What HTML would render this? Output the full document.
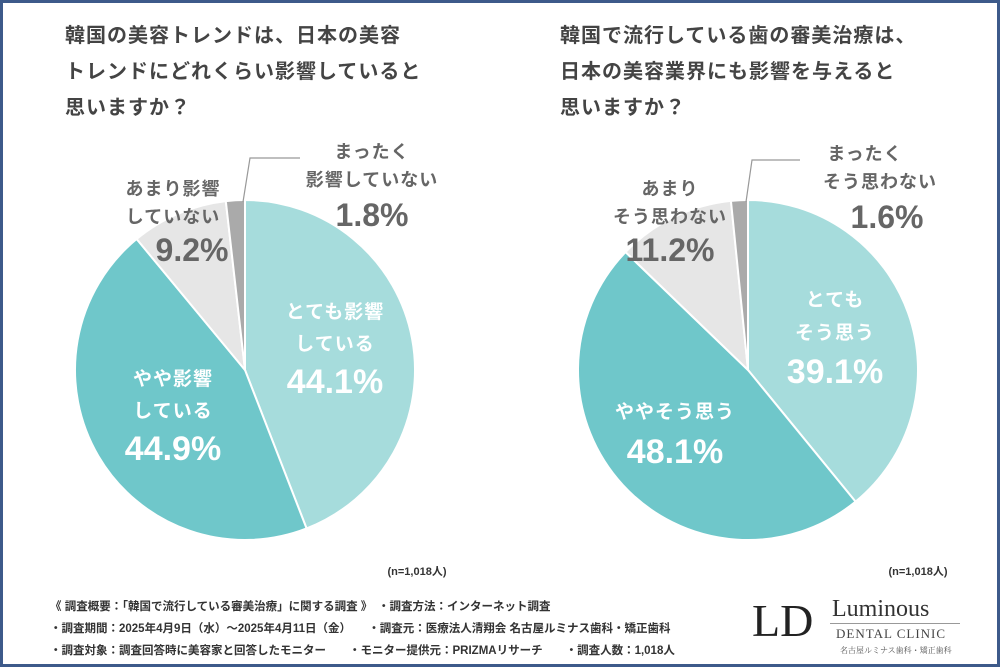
<!DOCTYPE html>
<html><head><meta charset="utf-8">
<style>
html,body{margin:0;padding:0;}
body{width:1000px;height:667px;position:relative;overflow:hidden;background:#fff;font-family:"Liberation Sans","Noto Sans CJK JP",sans-serif;}
#frame{position:absolute;left:0;top:0;width:994px;height:661px;border:3px solid #3d5a8a;}
.t{position:absolute;font-weight:bold;color:#444;font-size:20px;line-height:36px;letter-spacing:1px;white-space:nowrap;}
.foot{position:absolute;font-size:11.5px;color:#333;white-space:nowrap;font-weight:bold;}
</style></head><body>
<div id="frame"></div>
<div class="t" style="left:65px;top:18px;">韓国の美容トレンドは、日本の美容<br>トレンドにどれくらい影響していると<br>思いますか？</div>
<div class="t" style="left:560px;top:18px;">韓国で流行している歯の審美治療は、<br>日本の美容業界にも影響を与えると<br>思いますか？</div>
<svg id="chart" width="1000" height="667" style="position:absolute;left:0;top:0"></svg>
<div class="foot" style="left:50px;top:598px;">《 調査概要：「韓国で流行している審美治療」に関する調査 》　・調査方法：インターネット調査</div>
<div class="foot" style="left:50px;top:620px;">・調査期間：2025年4月9日（水）～2025年4月11日（金）　　・調査元：医療法人清翔会 名古屋ルミナス歯科・矯正歯科</div>
<div class="foot" style="left:50px;top:642px;">・調査対象：調査回答時に美容家と回答したモニター　　・モニター提供元：PRIZMAリサーチ　　・調査人数：1,018人</div>
<div style="position:absolute;left:752px;top:596px;font-family:'Liberation Serif',serif;font-size:46px;color:#222;line-height:50px;">LD</div>
<div style="position:absolute;left:832px;top:596px;font-family:'Liberation Serif',serif;font-size:24px;color:#333;line-height:26px;">Luminous</div>
<div style="position:absolute;left:830px;top:623px;width:130px;border-top:1px solid #999;"></div>
<div style="position:absolute;left:836px;top:626px;font-family:'Liberation Serif',serif;font-size:13px;color:#444;letter-spacing:1px;">DENTAL CLINIC</div>
<div style="position:absolute;left:840px;top:645px;font-family:'Noto Serif CJK SC',serif;font-size:8px;color:#555;">名古屋ルミナス歯科・矯正歯科</div>
<script>
const leftValues=[44.1,44.9,9.2,1.8];
const rightValues=[39.1,48.1,11.2,1.6];
const colors=["#a6dcdc","#6fc7ca","#e6e6e6","#aaaaaa"];
const NS="http://www.w3.org/2000/svg";
const svg=document.getElementById('chart');
function el(t,a){const e=document.createElementNS(NS,t);for(const k in a)e.setAttribute(k,a[k]);svg.appendChild(e);return e;}
function pie(vals,cx,cy,r,name){
  const tot=vals.reduce((a,b)=>a+b,0);let a0=0;
  vals.forEach((v,i)=>{
    const a1=a0+v/tot*2*Math.PI;
    const x0=cx+r*Math.sin(a0),y0=cy-r*Math.cos(a0),x1=cx+r*Math.sin(a1),y1=cy-r*Math.cos(a1);
    const p=el('path',{d:`M${cx},${cy}L${x0},${y0}A${r},${r} 0 ${a1-a0>Math.PI?1:0} 1 ${x1},${y1}Z`,fill:colors[i],stroke:'#fff','stroke-width':2});
    
    
    a0=a1;
  });
}
pie(leftValues,245,370,170,'left');
pie(rightValues,748,370,170,'right');
function line(pts,name){const p=el('polyline',{points:pts,fill:'none',stroke:'#999','stroke-width':1.2});}
line('243,202 250,158 300,158','left-leader-line');
line('746,202 752,160 800,160','right-leader-line');
function txt(x,y,s,size,color,name,ls){const t=el('text',{x:x,y:y,'font-size':size,fill:color,'text-anchor':'middle','font-weight':'bold','letter-spacing':ls||0,'font-family':'"Liberation Sans","Noto Sans CJK JP",sans-serif'});t.textContent=s;}
const g='#666',w='#fff';
function pct(v){return v.toFixed(1)+'%';}
// left
txt(372,158,'まったく',18,g,'label-l-none',1);
txt(372,186,'影響していない',18,g,'label-l-none2',1);
txt(372,226,pct(leftValues[3]),32,g,'pct-l-none');
txt(173,195,'あまり影響',18,g,'label-l-little',1);
txt(173,223,'していない',18,g,'label-l-little2',1);
txt(192,261,pct(leftValues[2]),32,g,'pct-l-little');
txt(335,318,'とても影響',19,w,'label-l-very',1);
txt(335,350,'している',19,w,'label-l-very2',1);
txt(335,393,pct(leftValues[0]),34,w,'pct-l-very');
txt(173,385,'やや影響',19,w,'label-l-some',1);
txt(173,417,'している',19,w,'label-l-some2',1);
txt(173,460,pct(leftValues[1]),34,w,'pct-l-some');
// right
txt(865,160,'まったく',18,g,'label-r-none',1);
txt(880,188,'そう思わない',18,g,'label-r-none2',1);
txt(887,228,pct(rightValues[3]),32,g,'pct-r-none');
txt(670,195,'あまり',18,g,'label-r-little',1);
txt(670,223,'そう思わない',18,g,'label-r-little2',1);
txt(670,261,pct(rightValues[2]),32,g,'pct-r-little');
txt(835,306,'とても',19,w,'label-r-very',1);
txt(835,339,'そう思う',19,w,'label-r-very2',1);
txt(835,383,pct(rightValues[0]),34,w,'pct-r-very');
txt(675,418,'ややそう思う',19,w,'label-r-some',1);
txt(675,463,pct(rightValues[1]),34,w,'pct-r-some');
txt(417,575,'(n=1,018人)',11,'#333','n-left');
txt(918,575,'(n=1,018人)',11,'#333','n-right');
</script>
</body></html>
